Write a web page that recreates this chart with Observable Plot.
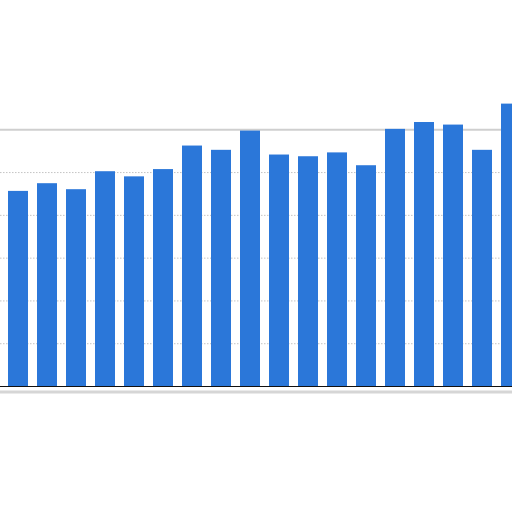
<!DOCTYPE html>
<html>
<head>
<meta charset="utf-8">
<script src="https://cdn.jsdelivr.net/npm/d3@7"></script>
<script src="https://cdn.jsdelivr.net/npm/@observablehq/plot@0.6"></script>
<style>
html, body { margin: 0; padding: 0; background: #fff; overflow: hidden; }
#chart svg { display: block; overflow: hidden; }
</style>
</head>
<body>
<div id="chart"></div>
<script>
const categories = ["1","2","3","4","5","6","7","8","9","10","11","12","13","14","15","16","17","18"];
const values = [45.6, 47.4, 46.0, 50.2, 49.0, 50.7, 56.2, 55.2, 59.7, 54.1, 53.7, 54.6, 51.6, 60.1, 61.7, 61.1, 55.2, 66.0];
const gridTicks = [10, 20, 30, 40, 50];
const topTick = [60];

const data = categories.map((c, i) => ({cat: c, value: values[i]}));

const chart = Plot.plot({
  width: 512,
  height: 512,
  marginLeft: 0,
  marginRight: -17.7,
  marginTop: 86.5,
  marginBottom: 126,
  x: {domain: categories, paddingInner: 0.32, paddingOuter: 0.23, axis: null},
  y: {domain: [0, 70], axis: null},
  marks: [
    Plot.ruleY(gridTicks, {stroke: "#c4c4c4", strokeDasharray: "1.5,1.5", strokeWidth: 1, strokeOpacity: 1}),
    Plot.ruleY(topTick, {stroke: "#cfcfcf", strokeWidth: 2}),
    Plot.barY(data, {x: "cat", y: "value", fill: "#2b77d9"}),
    Plot.ruleY([0], {stroke: "#111", strokeWidth: 1.2}),
    Plot.ruleY([-1.3], {stroke: "#d6d6d6", strokeWidth: 3})
  ]
});
document.getElementById("chart").appendChild(chart);
</script>
</body>
</html>
